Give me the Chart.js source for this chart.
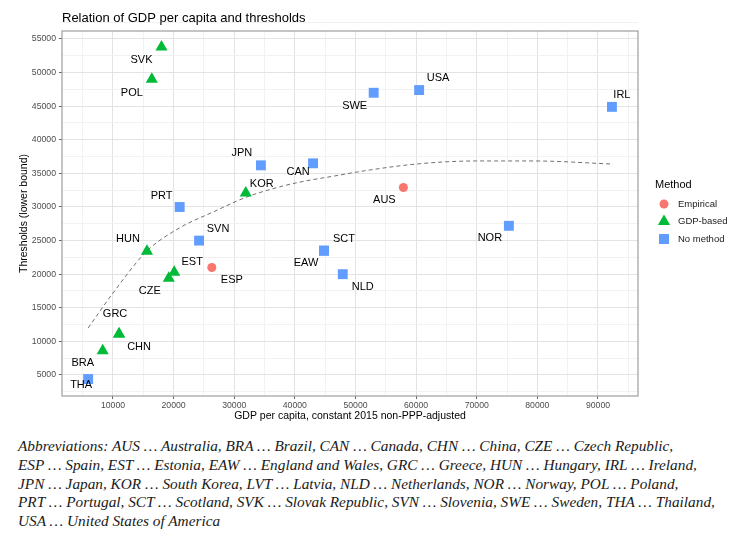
<!DOCTYPE html>
<html>
<head>
<meta charset="utf-8">
<title>Relation of GDP per capita and thresholds</title>
<script src="https://cdn.jsdelivr.net/npm/chart.js@4.4.0/dist/chart.umd.min.js"></script>
<style>
  html, body { margin: 0; padding: 0; background: #fff; }
  #wrap { position: relative; width: 743px; height: 537px; overflow: hidden; }
  #chart { position: absolute; left: 0; top: 0; }
  #note {
    position: absolute; left: 18px; top: 437px;
    font: italic 15.3px/18.8px "Liberation Serif", "DejaVu Serif", serif;
    color: #1a1a1a; white-space: nowrap;
  }
</style>
</head>
<body>
<div id="wrap">
  <canvas id="chart" width="743" height="425"></canvas>
  <div id="note">
    <div>Abbreviations: AUS … Australia, BRA … Brazil, CAN … Canada, CHN … China, CZE … Czech Republic,</div>
    <div>ESP … Spain, EST … Estonia, EAW … England and Wales, GRC … Greece, HUN … Hungary, IRL … Ireland,</div>
    <div>JPN … Japan, KOR … South Korea, LVT … Latvia, NLD … Netherlands, NOR … Norway, POL … Poland,</div>
    <div>PRT … Portugal, SCT … Scotland, SVK … Slovak Republic, SVN … Slovenia, SWE … Sweden, THA … Thailand,</div>
    <div>USA … United States of America</div>
  </div>
</div>
<script>
// tick labels
var xTicks = [10000, 20000, 30000, 40000, 50000, 60000, 70000, 80000, 90000];
var yTicks = [5000, 10000, 15000, 20000, 25000, 30000, 35000, 40000, 45000, 50000, 55000];

// Empirical
var empiricalNames = ['AUS', 'ESP'];
var empiricalGdp = [57900, 26300];
var empiricalThreshold = [32900, 21000];

// GDP-based
var gdpBasedNames = ['SVK', 'POL', 'KOR', 'HUN', 'EST', 'CZE', 'GRC', 'CHN', 'BRA'];
var gdpBasedGdp = [18000, 16400, 31900, 15600, 20100, 19200, 11000, 11000, 8300];
var gdpBasedThreshold = [53800, 49000, 32100, 23400, 20300, 19400, 11100, 11100, 8600];

// No method
var noMethodNames = ['JPN', 'CAN', 'PRT', 'SWE', 'USA', 'IRL', 'NOR', 'SVN', 'SCT', 'EAW', 'NLD', 'THA'];
var noMethodGdp = [34400, 43000, 21000, 53000, 60500, 92300, 75300, 24200, 44800, 44800, 47900, 5900];
var noMethodThreshold = [36200, 36500, 30000, 47000, 47400, 44900, 27200, 25000, 23500, 23500, 20000, 4400];

// fitted trend (dashed)
var fitGdp = [5900, 10000, 15600, 21000, 26500, 32100, 37500, 40800, 47400, 50200, 60100, 70000, 79300, 92300];
var fitThreshold = [12000, 17200, 23450, 26900, 29250, 31500, 33000, 33700, 34750, 35200, 36400, 36850, 36850, 36400];

// where each country label sits relative to its marker (px)
var labelOffset = {
  AUS: [-19, 12], ESP: [20, 12],
  SVK: [-20, 13], POL: [-20, 14], KOR: [16, -9], HUN: [-19, -12], EST: [18, -10],
  CZE: [-19, 13], GRC: [-4, -20], CHN: [20, 13], BRA: [-20, 12],
  JPN: [-19, -12], CAN: [-15, 9], PRT: [-18, -11], SWE: [-19, 13], USA: [19, -12],
  IRL: [10, -12], NOR: [-19, 12], SVN: [19, -12], SCT: [20, -12], EAW: [-18, 12],
  NLD: [20, 13], THA: [-7, 6]
};

var red = '#F8766D';
var green = '#00BA38';
var blue = '#619CFF';
var sans = '"Liberation Sans", Arial, sans-serif';

function toPoints(xs, ys) {
  return xs.map(function (x, i) { return { x: x, y: ys[i] }; });
}

function withMinor(major, step) {
  var all = major.slice();
  major.forEach(function (v) { all.push(v - step / 2); });
  all.push(major[major.length - 1] + step / 2);
  return all.sort(function (a, b) { return a - b; });
}

var xGrid = withMinor(xTicks, 10000);
var yGrid = withMinor(yTicks, 5000);

function gridColor(major) {
  return function (c) {
    return major.indexOf(c.tick.value) >= 0 ? '#e3e3e3' : '#f2f2f2';
  };
}
function tickColor(major) {
  return function (c) {
    return major.indexOf(c.tick.value) >= 0 ? '#666' : 'rgba(0,0,0,0)';
  };
}

function drawSymbol(ctx, shape, x, y, color) {
  ctx.fillStyle = color;
  ctx.beginPath();
  if (shape === 'circle') {
    ctx.arc(x, y, 4.5, 0, Math.PI * 2);
  } else if (shape === 'triangle') {
    ctx.moveTo(x, y - 7);
    ctx.lineTo(x + 6.1, y + 3.5);
    ctx.lineTo(x - 6.1, y + 3.5);
    ctx.closePath();
  } else {
    ctx.rect(x - 5, y - 5, 10, 10);
  }
  ctx.fill();
}

var extras = {
  id: 'extras',
  beforeDatasetsDraw: function (chart) {
    var ctx = chart.ctx, a = chart.chartArea;
    ctx.save();
    ctx.strokeStyle = '#9e9e9e';
    ctx.lineWidth = 1.2;
    ctx.strokeRect(a.left, a.top, a.right - a.left, a.bottom - a.top);
    ctx.restore();
  },
  afterDatasetsDraw: function (chart) {
    var ctx = chart.ctx;
    var names = [empiricalNames, gdpBasedNames, noMethodNames];
    ctx.save();
    ctx.font = '11px ' + sans;
    ctx.fillStyle = '#000';
    ctx.textAlign = 'center';
    ctx.textBaseline = 'middle';
    names.forEach(function (list, d) {
      var meta = chart.getDatasetMeta(d);
      list.forEach(function (name, i) {
        var el = meta.data[i];
        var off = labelOffset[name];
        ctx.fillText(name, el.x + off[0], el.y + off[1]);
      });
    });
    ctx.restore();
  },
  afterDraw: function (chart) {
    var ctx = chart.ctx;
    ctx.save();
    ctx.fillStyle = '#000';
    ctx.textBaseline = 'middle';
    ctx.textAlign = 'left';
    ctx.font = '13px ' + sans;
    ctx.fillText('Relation of GDP per capita and thresholds', 62, 18);

    // legend
    ctx.font = '11px ' + sans;
    ctx.fillText('Method', 655, 185);
    var items = [['circle', red, 'Empirical'], ['triangle', green, 'GDP-based'], ['rect', blue, 'No method']];
    items.forEach(function (it, i) {
      var y = 204 + i * 17.5;
      drawSymbol(ctx, it[0], 664, y, it[1]);
      ctx.fillStyle = '#1a1a1a';
      ctx.font = '9.5px ' + sans;
      ctx.fillText(it[2], 678, y);
    });
    ctx.restore();
  }
};

var chart = new Chart(document.getElementById('chart').getContext('2d'), {
  type: 'scatter',
  data: {
    datasets: [
      {
        label: 'Empirical',
        data: toPoints(empiricalGdp, empiricalThreshold),
        pointStyle: 'circle', pointRadius: 4.5,
        backgroundColor: red, borderWidth: 0
      },
      {
        label: 'GDP-based',
        data: toPoints(gdpBasedGdp, gdpBasedThreshold),
        pointStyle: 'triangle', pointRadius: 7,
        backgroundColor: green, borderWidth: 0
      },
      {
        label: 'No method',
        data: toPoints(noMethodGdp, noMethodThreshold),
        pointStyle: 'rect', pointRadius: 7,
        backgroundColor: blue, borderWidth: 0
      },
      {
        label: 'fit',
        data: toPoints(fitGdp, fitThreshold),
        showLine: true, pointRadius: 0,
        borderColor: '#707070', borderWidth: 1, borderDash: [4, 3],
        cubicInterpolationMode: 'monotone'
      }
    ]
  },
  options: {
    responsive: false,
    animation: false,
    layout: { padding: { top: 31, right: 105, left: 0, bottom: 0 } },
    plugins: { legend: { display: false }, tooltip: { enabled: false } },
    scales: {
      x: {
        type: 'linear', min: 1588, max: 96600,
        afterBuildTicks: function (scale) {
          scale.ticks = xGrid.map(function (v) { return { value: v }; });
        },
        afterFit: function (scale) { scale.height = 29; },
        ticks: {
          autoSkip: false, maxRotation: 0, padding: 1,
          color: '#4d4d4d', font: { family: sans, size: 8.7 },
          callback: function (v) { return xTicks.indexOf(v) >= 0 ? String(v) : ''; }
        },
        grid: { color: gridColor(xTicks), tickColor: tickColor(xTicks), tickLength: 3, lineWidth: 1 },
        border: { display: false },
        title: {
          display: true, text: 'GDP per capita, constant 2015 non-PPP-adjusted',
          color: '#000', font: { family: sans, size: 10.5 }, padding: { top: 0, bottom: 3 }
        }
      },
      y: {
        type: 'linear', min: 1875, max: 56190,
        afterBuildTicks: function (scale) {
          scale.ticks = yGrid.map(function (v) { return { value: v }; });
        },
        afterFit: function (scale) { scale.width = 62; },
        ticks: {
          autoSkip: false, padding: 3,
          color: '#4d4d4d', font: { family: sans, size: 8.7 },
          callback: function (v) { return yTicks.indexOf(v) >= 0 ? String(v) : ''; }
        },
        grid: { color: gridColor(yTicks), tickColor: tickColor(yTicks), tickLength: 3, lineWidth: 1 },
        border: { display: false },
        title: {
          display: true, text: 'Thresholds (lower bound)',
          color: '#000', font: { family: sans, size: 10.5 }, padding: { top: 17.5, bottom: 0 }
        }
      }
    }
  },
  plugins: [extras]
});
</script>
</body>
</html>
